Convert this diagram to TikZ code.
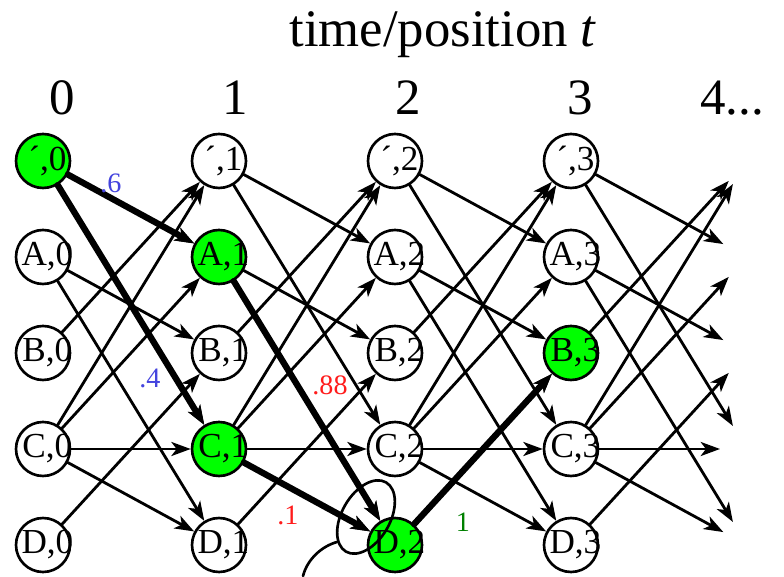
\documentclass[tikz,border=0pt]{standalone}
\usepackage{fontspec}
\setmainfont{Liberation Serif}
\usepackage{tikz}
\usetikzlibrary{arrows.meta}
\definecolor{hitgreen}{RGB}{0,255,0}
\definecolor{wblue}{RGB}{68,68,222}
\definecolor{wred}{RGB}{255,28,28}
\definecolor{wgreen}{RGB}{0,128,0}

\begin{document}
\begin{tikzpicture}[line cap=round, line join=round,
    state/.style={circle,draw,line width=1.5pt,minimum size=1.08cm,inner sep=0pt,
      font=\fontsize{20}{20}\selectfont},
    head/.style={font=\fontsize{29}{31}\selectfont},
    edge/.style={line width=1.6pt,-{Stealth[length=11pt,width=8pt,inset=3pt]}},
    best/.style={edge,line width=3.6pt},
    wt/.style={font=\fontsize{16}{16}\selectfont}]
  \useasboundingbox (0,0) rectangle (15.68,11.52);
  \node[head,font=\fontsize{30}{32}\selectfont] (title) at (8.86,10.82) {time/position \textit{t}};
  \foreach \j/\x in {0/1.24,1/4.70,2/8.16,3/11.60}
    \node[head] (h\j) at (\x,9.56) {\j};
  \node[head] (h4) at (14.64,9.56) {4...};
  % states, one green per row
  \foreach \r/\t/\y/\g in {s/´/8.30/0,a/A/6.38/1,b/B/4.46/3,c/C/2.54/1,d/D/0.62/2}{
    \foreach \j in {0,...,3}{
      \ifnum\j=\g \def\fc{hitgreen}\else\def\fc{white}\fi
      \node[state,fill=\fc] (\r\j) at ({0.86+3.52*\j},\y) {\makebox[0pt]{\kern5pt\t,\j}};
    }
    \coordinate (\r4) at (14.94,\y);
  }
  % transitions
  \foreach \i/\k in {0/1,1/2,2/3}
    \foreach \p/\q in {s/a,s/c,a/b,a/d,b/s,c/s,c/a,c/c,c/d,d/b}
      \draw[edge] (\p\i) -- (\q\k);
  \foreach \p/\q in {s/a,s/c,a/b,a/d,b/s,c/s,c/a,c/c,c/d,d/b}
    \draw[edge,shorten >=0.54cm] (\p3) -- (\q4);
  % best path
  \draw[best] (s0) -- (a1);
  \draw[best] (s0) -- (c1);
  \draw[best] (a1) -- (d2);
  \draw[best] (c1) -- (d2);
  \draw[best] (d2) -- (b3);
  \node[wt,text=wblue] (w6) at (2.22,7.86) {.6};
  \node[wt,text=wblue] (w4) at (3.00,3.96) {.4};
  \node[wt,text=wred] (w88) at (6.60,3.82) {.88};
  \node[wt,text=wred] (w1) at (5.76,1.22) {.1};
  \node[wt,text=wgreen] (w0) at (9.26,1.08) {1};
  % loop
  \draw[line width=1.5pt] (7.32,1.18) ellipse[x radius=0.8cm,y radius=0.48cm,rotate=60];
  \draw[line width=1.5pt] (6.74,0.68) .. controls (6.45,0.6) and (6.15,0.35) .. (6.06,0);
\end{tikzpicture}
\end{document}
